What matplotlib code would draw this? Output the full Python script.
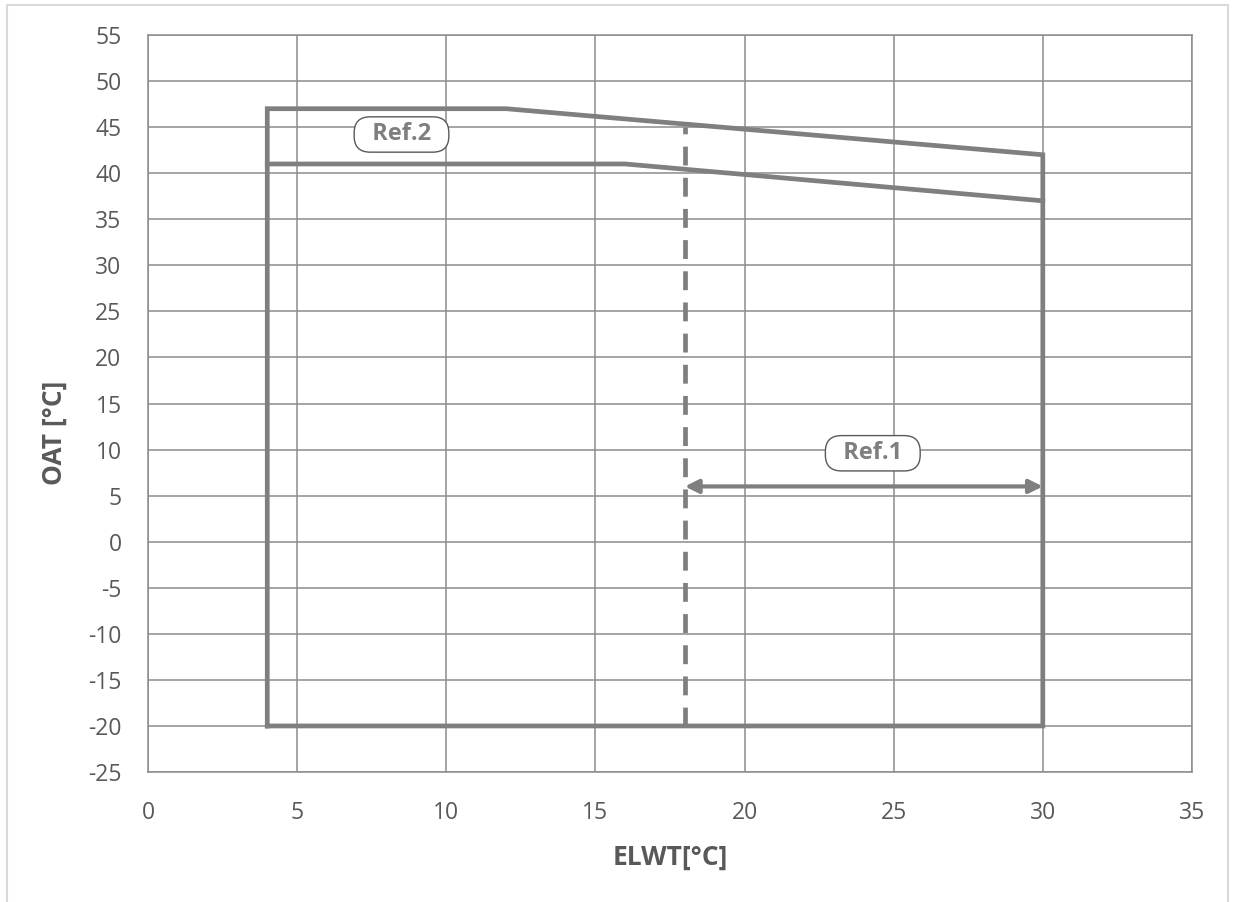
import numpy as np
import matplotlib
matplotlib.use("Agg")
from matplotlib import pyplot as plt
from matplotlib.patches import Rectangle

plt.rcParams['font.family'] = ['Open Sans', 'DejaVu Sans']
plt.rcParams['axes.unicode_minus'] = False

# envelope data
outer_x = [4, 4, 12, 30, 30, 4]
outer_y = [-20, 47, 47, 42, -20, -20]
inner_x = [4, 16, 30]
inner_y = [41, 41, 37]
dash_x = [18, 18]
dash_y = [-20, 45]
arrow_x = [18, 30]
arrow_y = 6
ref1_pos = (24.3, 9.6)
ref2_pos = (8.5, 44.2)
xticks = np.arange(0, 36, 5)
yticks = np.arange(-25, 56, 5)

grey = '#7f7f7f'
txt = '#595959'

fig = plt.figure(figsize=(12.33, 9.02), dpi=100)
fig.patches.append(Rectangle((0.006, -0.01), 0.99, 1.004, transform=fig.transFigure,
                             fill=False, edgecolor='#d9d9d9', linewidth=1.5))
ax = fig.add_axes([0.12, 0.1441, 0.8467, 0.8171])

ax.plot(outer_x, outer_y, color=grey, lw=3.4, solid_joinstyle='miter', zorder=3)
ax.plot(inner_x, inner_y, color=grey, lw=3.4, zorder=3)
ax.plot(dash_x, dash_y, color=grey, lw=3.4, dashes=(4, 2.6), zorder=3)
ax.annotate('', xy=(arrow_x[1], arrow_y), xytext=(arrow_x[0], arrow_y),
            arrowprops=dict(arrowstyle='<|-|>', color=grey, lw=3, mutation_scale=20,
                            shrinkA=0, shrinkB=0), zorder=4)

box = dict(boxstyle='round,pad=0.24,rounding_size=0.68', facecolor='white', edgecolor='#595959', lw=1)
for label, pos in [('Ref.1', ref1_pos), ('Ref.2', ref2_pos)]:
    ax.text(pos[0], pos[1], '  ' + label + '  ', ha='center', va='center', fontsize=17,
            fontweight='bold', color=grey, bbox=box, zorder=5)

ax.set_xlim(0, 35)
ax.set_ylim(-25, 55)
ax.set_xticks(xticks)
ax.set_yticks(yticks)
ax.grid(True, color='#8c8c8c', lw=1.1)
ax.set_axisbelow(True)
for s in ax.spines.values():
    s.set_color('#8c8c8c')
    s.set_linewidth(1.1)
ax.tick_params(length=0, labelsize=16.5, labelcolor=txt)
ax.tick_params(axis='y', pad=19)
ax.tick_params(axis='x', pad=21)
ax.set_xlabel('ELWT[°C]', fontsize=19, fontweight='bold', color=txt)
ax.set_ylabel('OAT [°C]', fontsize=19, fontweight='bold', color=txt)
ax.xaxis.set_label_coords(0.5, -0.098)
ax.yaxis.set_label_coords(-0.077, 0.46)

fig.savefig('out.png', dpi=100)
